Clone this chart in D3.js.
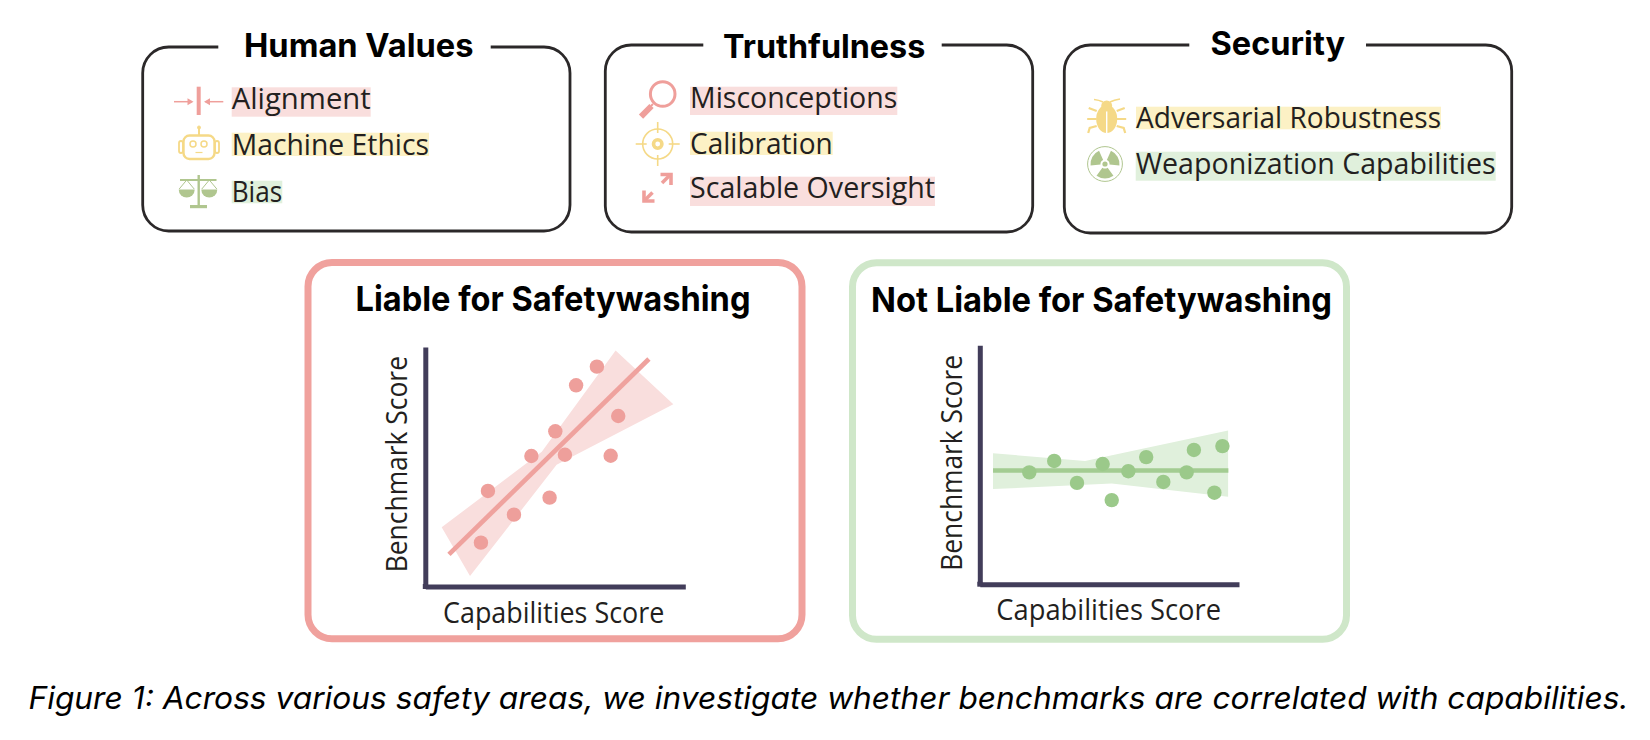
<!DOCTYPE html>
<html>
<head>
<meta charset="utf-8">
<script src="https://cdn.jsdelivr.net/npm/d3@7"></script>
<style>
  html, body { margin: 0; padding: 0; background: #fff; }
  svg { display: block; }
</style>
</head>
<body>
<svg id="chart" width="1650" height="740"></svg>
<script>
// chart values (both charts on a 0-100 scale)
var liableX = [21.4, 24.1, 34.1, 40.8, 47.8, 50, 53.7, 58, 66, 71.3, 74.2];
var liableY = [18.3, 39.9, 30, 54.5, 37.1, 64.8, 55, 84, 91.8, 54.6, 71.2];
var liableFitX = [9.1, 86];
var liableFitY = [13.4, 95];
var liableBandX = [6.3, 44.8, 73.2, 95.4, 50.5, 17.2];
var liableBandY = [24.7, 56.3, 98.5, 76.1, 50.8, 4.4];

var notLiableX = [19.1, 28.7, 37.5, 47.4, 50.9, 57.3, 64.2, 70.8, 79.8, 82.6, 90.5, 93.6];
var notLiableY = [46.8, 51.6, 42.4, 50.3, 35.2, 47.3, 53.2, 42.8, 46.8, 56.2, 38.3, 57.8];
var notLiableFitX = [5.1, 95.9];
var notLiableFitY = [47.6, 47.6];
var notLiableBandX = [5.1, 40.6, 95.8, 95.8, 50.9, 5.1];
var notLiableBandY = [54.8, 51.6, 64.3, 36.6, 42.2, 39.8];

var groupTitles = ['Human Values', 'Truthfulness', 'Security'];
var humanValuesItems = ['Alignment', 'Machine Ethics', 'Bias'];
var truthfulnessItems = ['Misconceptions', 'Calibration', 'Scalable Oversight'];
var securityItems = ['Adversarial Robustness', 'Weaponization Capabilities'];
var panelTitles = ['Liable for Safetywashing', 'Not Liable for Safetywashing'];
var xLabel = 'Capabilities Score';
var yLabel = 'Benchmark Score';
var caption = 'Figure 1: Across various safety areas, we investigate whether benchmarks are correlated with capabilities.';

var pink = '#ef9f9b', pinkLight = '#f9dedd';
var yellow = '#f5d987', yellowLight = '#fcf1c5';
var green = '#b0c68f', greenLight = '#e0f0dc';
var ink = '#231f20', axisColor = '#423d5a';

var svg = d3.select('#chart');

function label(parent, str, x, y, size, width, opts) {
  opts = opts || {};
  var t = parent.append('text')
    .attr('x', x).attr('y', y)
    .attr('font-family', opts.family || '"Open Sans", sans-serif')
    .attr('font-size', size)
    .attr('font-weight', opts.weight || 400)
    .attr('font-style', opts.style || 'normal')
    .attr('fill', opts.fill || ink)
    .attr('textLength', width)
    .attr('lengthAdjust', 'spacingAndGlyphs')
    .text(str);
  return t;
}

// ---- top boxes
var boxes = [
  {x0: 142.7, x1: 570, y0: 47, y1: 231, gap: [218.3, 490.7], title: [244, 57.3, 229.5]},
  {x0: 605.3, x1: 1032.7, y0: 45, y1: 232, gap: [703.3, 941.7], title: [723, 57.7, 202.3]},
  {x0: 1064.3, x1: 1511.7, y0: 45, y1: 233, gap: [1189.3, 1366], title: [1210.5, 55, 134.6]}
];

boxes.forEach(function(b, i) {
  var r = 26;
  var p = d3.path();
  p.moveTo(b.gap[0], b.y0);
  p.lineTo(b.x0 + r, b.y0);
  p.arcTo(b.x0, b.y0, b.x0, b.y0 + r, r);
  p.lineTo(b.x0, b.y1 - r);
  p.arcTo(b.x0, b.y1, b.x0 + r, b.y1, r);
  p.lineTo(b.x1 - r, b.y1);
  p.arcTo(b.x1, b.y1, b.x1, b.y1 - r, r);
  p.lineTo(b.x1, b.y0 + r);
  p.arcTo(b.x1, b.y0, b.x1 - r, b.y0, r);
  p.lineTo(b.gap[1], b.y0);
  svg.append('path').attr('d', p.toString())
    .attr('fill', 'none').attr('stroke', '#2b2829').attr('stroke-width', 2.8);
  label(svg, groupTitles[i], b.title[0], b.title[1], 32, b.title[2],
    {family: 'Inter, sans-serif', weight: 700, fill: '#000'});
});

// highlighted item labels: rect x0,x1,y0,y1, baseline
var itemRows = [
  {text: humanValuesItems[0], fill: pinkLight, r: [231.7, 370.7, 87.3, 116.7], base: 109.3},
  {text: humanValuesItems[1], fill: yellowLight, r: [231.7, 429, 132.7, 156], base: 154.7},
  {text: humanValuesItems[2], fill: greenLight, r: [231.7, 282.3, 180.7, 203.3], base: 201.7},
  {text: truthfulnessItems[0], fill: pinkLight, r: [690, 897.3, 86.7, 115], base: 108.3},
  {text: truthfulnessItems[1], fill: yellowLight, r: [690, 832.7, 131.7, 155], base: 153.7},
  {text: truthfulnessItems[2], fill: pinkLight, r: [690, 935, 176.7, 206], base: 198},
  {text: securityItems[0], fill: yellowLight, r: [1136, 1441, 106.7, 129.3], base: 128.3},
  {text: securityItems[1], fill: greenLight, r: [1135.7, 1495.7, 151.7, 180.7], base: 174}
];
itemRows.forEach(function(d) {
  svg.append('rect')
    .attr('x', d.r[0]).attr('y', d.r[2])
    .attr('width', d.r[1] - d.r[0]).attr('height', d.r[3] - d.r[2])
    .attr('fill', d.fill);
  label(svg, d.text, d.r[0], d.base, 29.5, d.r[1] - d.r[0]);
});

// ---- icons
function line(g, x1, y1, x2, y2, color, w, cap) {
  return g.append('line').attr('x1', x1).attr('y1', y1).attr('x2', x2).attr('y2', y2)
    .attr('stroke', color).attr('stroke-width', w).attr('stroke-linecap', cap || 'butt');
}

// alignment
var ic = svg.append('g');
line(ic, 198.7, 86.7, 198.7, 115, pink, 4);
line(ic, 174, 101.7, 192, 101.7, pink, 1.5);
line(ic, 205.5, 101.7, 223.3, 101.7, pink, 1.5);
ic.append('path').attr('d', 'M193.5,101.7L187.5,98.2V105.2Z').attr('fill', pink);
ic.append('path').attr('d', 'M204,101.7L210,98.2V105.2Z').attr('fill', pink);

// robot
ic = svg.append('g').attr('fill', 'none').attr('stroke', yellow);
ic.append('rect').attr('x', 183.5).attr('y', 135.5).attr('width', 31).attr('height', 23.5).attr('rx', 6).attr('stroke-width', 2.4);
ic.append('rect').attr('x', 179).attr('y', 141).attr('width', 4).attr('height', 12).attr('rx', 2).attr('stroke-width', 1.8);
ic.append('rect').attr('x', 215).attr('y', 141).attr('width', 4).attr('height', 12).attr('rx', 2).attr('stroke-width', 1.8);
line(ic, 199, 128, 199, 135, yellow, 2);
ic.append('circle').attr('cx', 199).attr('cy', 127.5).attr('r', 1.5).attr('fill', yellow);
ic.append('circle').attr('cx', 193).attr('cy', 144).attr('r', 3).attr('stroke-width', 1.5);
ic.append('circle').attr('cx', 204).attr('cy', 144).attr('r', 3).attr('stroke-width', 1.5);
line(ic, 195.5, 152.5, 202.5, 152.5, yellow, 1.2);

// scales
ic = svg.append('g');
line(ic, 198.7, 175, 198.7, 206, green, 2.4);
line(ic, 180, 180, 216.5, 180, green, 1.8);
ic.append('rect').attr('x', 190).attr('y', 205).attr('width', 17).attr('height', 3.2).attr('fill', green);
[186.7, 209.3].forEach(function(cx) {
  line(ic, cx, 180, cx - 7.5, 189, green, 1);
  line(ic, cx, 180, cx + 7.5, 189, green, 1);
  ic.append('path').attr('d', 'M' + (cx - 8) + ',189.5A8,8 0 0 0 ' + (cx + 8) + ',189.5Z').attr('fill', green);
});

// magnifier
ic = svg.append('g');
ic.append('circle').attr('cx', 662.7).attr('cy', 94).attr('r', 12.3).attr('fill', 'none').attr('stroke', pink).attr('stroke-width', 3);
line(ic, 653, 104, 651, 106, pink, 2);
line(ic, 651.5, 106, 641, 116.7, pink, 6);

// target
ic = svg.append('g');
ic.append('circle').attr('cx', 657.7).attr('cy', 144).attr('r', 15).attr('fill', 'none').attr('stroke', yellow).attr('stroke-width', 1.6);
ic.append('circle').attr('cx', 657.7).attr('cy', 144).attr('r', 4.2).attr('fill', 'none').attr('stroke', yellow).attr('stroke-width', 3.6);
[[0, -1], [0, 1], [-1, 0], [1, 0]].forEach(function(v) {
  line(ic, 657.7 + v[0] * 11, 144 + v[1] * 11, 657.7 + v[0] * 22, 144 + v[1] * 22, yellow, 1.6);
});

// expand arrows
ic = svg.append('g').attr('fill', 'none');
line(ic, 662, 183, 670, 175, pink, 3.6);
line(ic, 652.5, 192.5, 644.5, 200.5, pink, 3.6);
ic.append('path').attr('d', 'M660.5,174.5H671V185').attr('stroke', pink).attr('stroke-width', 3.6);
ic.append('path').attr('d', 'M644,190.5V201H654.5').attr('stroke', pink).attr('stroke-width', 3.6);

// bug
ic = svg.append('g');
ic.append('ellipse').attr('cx', 1106.7).attr('cy', 119).attr('rx', 10.5).attr('ry', 14).attr('fill', yellow);
line(ic, 1106.7, 105, 1106.7, 134, '#fff', 1.4);
ic.append('circle').attr('cx', 1106.7).attr('cy', 106).attr('r', 5.5).attr('fill', yellow);
ic.append('path').attr('d', 'M1103,102Q1099,100 1094,99.5M1110,102Q1114,100 1120,99').attr('fill', 'none').attr('stroke', yellow).attr('stroke-width', 1.6);
[-1, 1].forEach(function(d) {
  var x = 1106.7 + d * 10;
  ic.append('path')
    .attr('d', 'M' + x + ',111L' + (x + d * 8) + ',108' +
      'M' + x + ',119L' + (x + d * 9.5) + ',119' +
      'M' + x + ',126L' + (x + d * 7) + ',128L' + (x + d * 8.5) + ',133')
    .attr('fill', 'none').attr('stroke', yellow).attr('stroke-width', 2.2);
});

// radiation
ic = svg.append('g').attr('transform', 'translate(1105,164)');
ic.append('circle').attr('r', 17.4).attr('fill', 'none').attr('stroke', green).attr('stroke-width', 1);
var sector = d3.arc().innerRadius(4.5).outerRadius(14.5);
[-Math.PI / 3, Math.PI / 3, Math.PI].forEach(function(a) {
  ic.append('path').attr('fill', green)
    .attr('d', sector({startAngle: a - Math.PI / 6 - 0.1, endAngle: a + Math.PI / 6 + 0.1}));
});
ic.append('circle').attr('r', 2.6).attr('fill', green);

// ---- lower panels
var panels = [
  {
    title: panelTitles[0], color: '#f0a19d', box: [308, 802, 262.5, 638.8], titlePos: [355.5, 310.7, 395],
    xRange: [425.3, 685.3], yRange: [586.5, 347],
    xs: liableX, ys: liableY, fitX: liableFitX, fitY: liableFitY, bandX: liableBandX, bandY: liableBandY,
    dot: '#ee9f9b', fit: '#efa29e', band: pinkLight,
    xl: [443, 622.7, 221.3], yl: [407.3, 572.3, 216.3]
  },
  {
    title: panelTitles[1], color: '#cfe7c9', box: [852.5, 1346.5, 262.8, 639.2], titlePos: [871, 311.7, 461],
    xRange: [979.8, 1239], yRange: [584.2, 345.3],
    xs: notLiableX, ys: notLiableY, fitX: notLiableFitX, fitY: notLiableFitY, bandX: notLiableBandX, bandY: notLiableBandY,
    dot: '#9bc98a', fit: '#a3cc92', band: greenLight,
    xl: [996.3, 620, 224.7], yl: [961.7, 570.7, 215.7]
  }
];

panels.forEach(function(p) {
  svg.append('rect')
    .attr('x', p.box[0]).attr('y', p.box[2])
    .attr('width', p.box[1] - p.box[0]).attr('height', p.box[3] - p.box[2])
    .attr('rx', 24).attr('fill', 'none')
    .attr('stroke', p.color).attr('stroke-width', 7);

  label(svg, p.title, p.titlePos[0], p.titlePos[1], 34.5, p.titlePos[2],
    {family: 'Inter, sans-serif', weight: 700, fill: '#000'});

  var x = d3.scaleLinear().domain([0, 100]).range(p.xRange);
  var y = d3.scaleLinear().domain([0, 100]).range(p.yRange);
  var g = svg.append('g');

  var band = p.bandX.map(function(v, i) { return [x(v), y(p.bandY[i])]; });
  g.append('path')
    .attr('d', d3.line()(band) + 'Z')
    .attr('fill', p.band);

  g.append('path')
    .attr('d', d3.line()(p.fitX.map(function(v, i) { return [x(v), y(p.fitY[i])]; })))
    .attr('fill', 'none').attr('stroke', p.fit).attr('stroke-width', 4.7);

  g.selectAll('circle')
    .data(p.xs)
    .enter()
    .append('circle')
    .attr('cx', function(d) { return x(d); })
    .attr('cy', function(d, i) { return y(p.ys[i]); })
    .attr('r', 7.2)
    .attr('fill', p.dot);

  var xAxis = g.append('g')
    .attr('transform', 'translate(0,' + p.yRange[0] + ')')
    .call(d3.axisBottom(x).tickValues([]).tickSizeOuter(0));
  var yAxis = g.append('g')
    .attr('transform', 'translate(' + p.xRange[0] + ',0)')
    .call(d3.axisLeft(y).tickValues([]).tickSizeOuter(0));
  xAxis.select('.domain').attr('stroke', axisColor).attr('stroke-width', 5);
  yAxis.select('.domain').attr('stroke', axisColor).attr('stroke-width', 5);
  // close the corner where the two axes meet
  g.append('rect')
    .attr('x', x(0) - 2.5).attr('y', y(0) - 2.5)
    .attr('width', 5).attr('height', 5)
    .attr('fill', axisColor);

  label(svg, xLabel, p.xl[0], p.xl[1], 29, p.xl[2]);
  label(svg, yLabel, 0, 0, 29, p.yl[2])
    .attr('transform', 'translate(' + p.yl[0] + ',' + p.yl[1] + ') rotate(-90)');
});

// ---- caption
label(svg, caption, 28.5, 709.3, 31, 1600,
  {family: 'Inter, sans-serif', style: 'italic', fill: '#000'});
</script>
</body>
</html>
